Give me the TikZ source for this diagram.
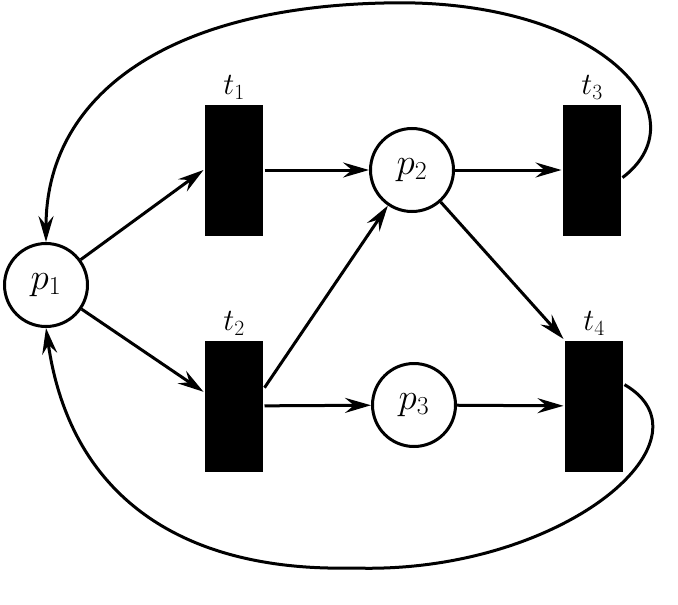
\RequirePackage{fix-cm}
\documentclass[tikz,border=0pt]{standalone}
\usepackage{tikz}
\usetikzlibrary{arrows.meta}
\usepackage{amsmath, amssymb}
\begin{document}
\begin{tikzpicture}[
      x=1pt,y=-1pt,line width=3pt,>={Stealth[length=26pt,width=15pt,inset=9pt]},
      place/.style={circle,draw,minimum size=83pt,inner sep=0pt,font=\fontsize{37}{44}\selectfont},
      transition/.style={rectangle,fill=black,minimum width=58pt,minimum height=131pt,inner sep=0pt},
      lab/.style={font=\fontsize{31}{37}\selectfont,inner sep=1pt},
      label distance=1pt,
      ]
      \useasboundingbox (0,0) rectangle (678,605);

      \node[place]                                  (p_1) at (46,285)  {$p_1$};
      \node[place]                                  (p_2) at (412,170) {$p_2$};
      \node[place]                                  (p_3) at (414,405) {$p_3$};
      \node[transition,label={[lab]above:$t_1$}]    (t_1) at (234,170) {};
      \node[transition,label={[lab]above:$t_2$}]    (t_2) at (234,406) {};
      \node[transition,label={[lab]above:$t_3$}]    (t_3) at (592,170) {};
      \node[transition,label={[lab]above:$t_4$}]    (t_4) at (594,406) {};

      \path[->] (p_1) edge (t_1.west)
                (p_1) edge (t_2.155)
                (t_1) edge (p_2)
                (t_2) edge (p_3)
                (t_2.31) edge (p_2)
                (p_2) edge (t_3)
                (p_2) edge (t_4.north west)
                (p_3) edge (t_4);

      % arcs back to p_1
      \draw[->] (t_3.-14) .. controls (705,115) and (600,-3) .. (384,3)
                .. controls (160,8) and (46,100) .. (p_1.north);
      \draw[->] (t_4.35) .. controls (720,440) and (560,575) .. (353,568)
                .. controls (180,572) and (70,495) .. (p_1.south);
\end{tikzpicture}
\end{document}
